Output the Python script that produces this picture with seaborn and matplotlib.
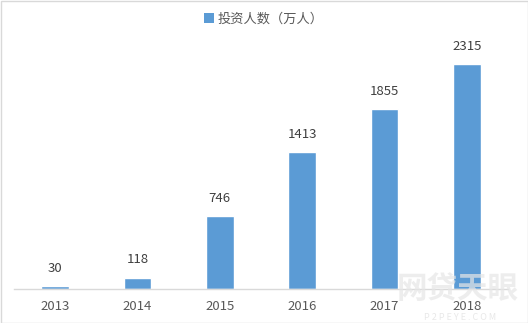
import matplotlib
matplotlib.use("Agg")
import matplotlib.pyplot as plt
import seaborn as sns
import pandas as pd
from matplotlib.patches import Rectangle, Patch

years = ["2013", "2014", "2015", "2016", "2017", "2018"]
investors = [30, 118, 746, 1413, 1855, 2315]
series_name = "投资人数（万人）"

sns.set_theme(style="white")
plt.rcParams['font.family'] = ['Noto Sans CJK SC', 'DejaVu Sans']

df = pd.DataFrame({"year": years, "value": investors})

fig = plt.figure(figsize=(5.28, 3.23), dpi=100)
ax = fig.add_axes([14/528, 34/323, 494/528, 243/323])
color = "#5B9BD5"
sns.barplot(data=df, x="year", y="value", color=color, width=0.34, ax=ax,
            saturation=1)
ax.set_ylim(0, 2500)
ax.set_xlim(-0.5, 5.5)
ax.set_xlabel("")
ax.set_ylabel("")
ax.set_yticks([])
for s in ["top", "left", "right"]:
    ax.spines[s].set_visible(False)
ax.spines["bottom"].set_color("#d9d9d9")
ax.spines["bottom"].set_linewidth(1)
ax.tick_params(axis="x", length=0, pad=8, labelsize=9.5, colors="#595959")

for i, v in enumerate(investors):
    ax.annotate(str(v), (i, v), xytext=(0, 8), textcoords="offset points",
                ha="center", va="bottom", fontsize=9.5, color="#404040")

leg = fig.legend(handles=[Patch(facecolor=color, edgecolor="none")], labels=[series_name],
                 loc="center", bbox_to_anchor=(0.5, 1 - 19/323), frameon=False,
                 fontsize=9.5, handlelength=0.7, handleheight=0.7, handletextpad=0.3)
for t in leg.get_texts():
    t.set_color("#595959")

# watermark
fig.text(458/528, 1 - 289/323, "网贷天眼", fontsize=22, color="#e6e6e6", ha="center",
         va="center", fontweight="bold", alpha=0.7, zorder=0.5)
fig.text(460/528, 1 - 317/323, "P 2 P E Y E . C O M", fontsize=6.5, color="#e6e6e6",
         ha="center", va="center", alpha=0.9, zorder=0.5)

fig.patches.append(Rectangle((0.5/528, 0.5/323), 527/528, 322/323, transform=fig.transFigure,
                             fill=False, edgecolor="#d9d9d9", linewidth=1))
fig.savefig("out.png", dpi=100)
